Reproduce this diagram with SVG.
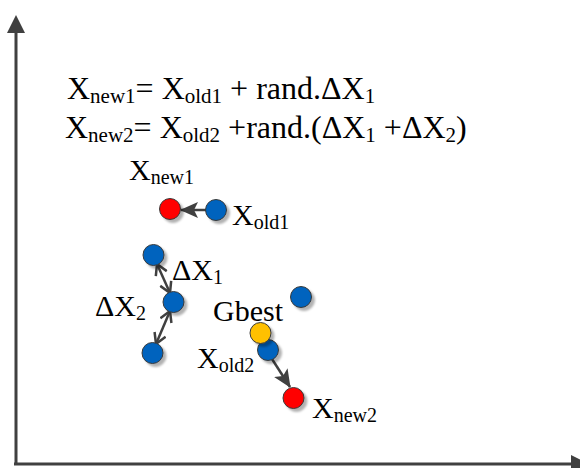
<svg xmlns="http://www.w3.org/2000/svg" width="580" height="468" viewBox="0 0 580 468">
<style>
text{font-family:"Liberation Serif","Times New Roman",serif;fill:#000;}
.lbl{font-size:30px;}
.sub{font-size:20px;}
.fl{font-size:32px;}
.fs{font-size:21px;}
.ax{stroke:#404040;stroke-width:3;fill:none;}
.con{stroke:#404040;stroke-width:2.5;fill:none;}
.pt{stroke:#3a3a3a;stroke-width:1;filter:url(#sh);}
.blue{fill:#0063BE;}
.red{fill:#FF0000;}
.yellow{fill:#FFC000;}
</style>
<defs>
<filter id="sh" x="-50%" y="-50%" width="200%" height="200%">
<feDropShadow dx="3" dy="3" stdDeviation="1.2" flood-color="#000" flood-opacity="0.3"/>
</filter>
<marker id="tri" markerUnits="userSpaceOnUse" viewBox="0 0 18 18" markerWidth="18" markerHeight="18" refX="17" refY="9" orient="auto">
<path d="M0,1 L18,9 L0,17 L4,9 z" fill="#404040"/>
</marker>
<marker id="vee" markerUnits="userSpaceOnUse" viewBox="0 0 14 14" markerWidth="14" markerHeight="14" refX="12.5" refY="7" orient="auto-start-reverse">
<path d="M2,1 L12.5,7 L2,13" fill="none" stroke="#404040" stroke-width="2.5"/>
</marker>
<marker id="axh" markerUnits="userSpaceOnUse" viewBox="0 0 20 20" markerWidth="20" markerHeight="20" refX="2" refY="10" orient="auto">
<path d="M0,1 L18,10 L0,19 z" fill="#404040"/>
</marker>
</defs>

<g id="axes">
<line class="ax" x1="16" y1="464" x2="16" y2="31" marker-end="url(#axh)"/>
<line class="ax" x1="14" y1="464" x2="573" y2="464" marker-end="url(#axh)"/>
</g>

<g id="formula">
<text class="fl" x="67" y="99">X<tspan class="fs" dy="4">new1</tspan><tspan dy="-4">= X</tspan><tspan class="fs" dy="4">old1</tspan><tspan dy="-4"> + rand.ΔX</tspan><tspan class="fs" dy="4">1</tspan></text>
<text class="fl" x="65" y="138">X<tspan class="fs" dy="4">new2</tspan><tspan dy="-4">= X</tspan><tspan class="fs" dy="4">old2</tspan><tspan dy="-4"> +rand.(ΔX</tspan><tspan class="fs" dy="4">1</tspan><tspan dy="-4"> +ΔX</tspan><tspan class="fs" dy="4">2</tspan><tspan dy="-4">)</tspan></text>
</g>

<g id="connectors">
<line class="con" x1="206" y1="210" x2="181" y2="210" marker-end="url(#tri)"/>
<line class="con" x1="157" y1="264" x2="170" y2="293" marker-start="url(#vee)" marker-end="url(#vee)"/>
<line class="con" x1="170" y1="311" x2="156" y2="344" marker-start="url(#vee)" marker-end="url(#vee)"/>
<line class="con" x1="272" y1="359" x2="290" y2="387" marker-end="url(#tri)"/>
</g>

<g id="xnew1">
<circle class="pt red" cx="170" cy="209" r="10.5"/>
<text class="lbl" x="129" y="180">X<tspan class="sub" dy="4">new1</tspan></text>
</g>
<g id="xold1">
<circle class="pt blue" cx="216" cy="210" r="10.5"/>
<text class="lbl" x="232" y="225">X<tspan class="sub" dy="4">old1</tspan></text>
</g>
<g id="p-top">
<circle class="pt blue" cx="153.5" cy="255" r="10.5"/>
</g>
<g id="p-mid">
<circle class="pt blue" cx="173.5" cy="302" r="10.5"/>
<text class="lbl" x="172" y="280">ΔX<tspan class="sub" dy="4">1</tspan></text>
</g>
<g id="p-bot">
<circle class="pt blue" cx="152.5" cy="353" r="10.5"/>
<text class="lbl" x="95" y="316">ΔX<tspan class="sub" dy="4">2</tspan></text>
</g>
<g id="p-right">
<circle class="pt blue" cx="301" cy="297" r="10.5"/>
</g>
<g id="xold2">
<circle class="pt blue" cx="268" cy="350" r="10.5"/>
<text class="lbl" x="197" y="368">X<tspan class="sub" dy="4">old2</tspan></text>
</g>
<g id="gbest">
<circle class="pt yellow" cx="260.5" cy="333" r="10.5"/>
<text class="lbl" x="213" y="321">Gbest</text>
</g>
<g id="xnew2">
<circle class="pt red" cx="293.5" cy="398" r="10.5"/>
<text class="lbl" x="312" y="418">X<tspan class="sub" dy="4">new2</tspan></text>
</g>
</svg>
